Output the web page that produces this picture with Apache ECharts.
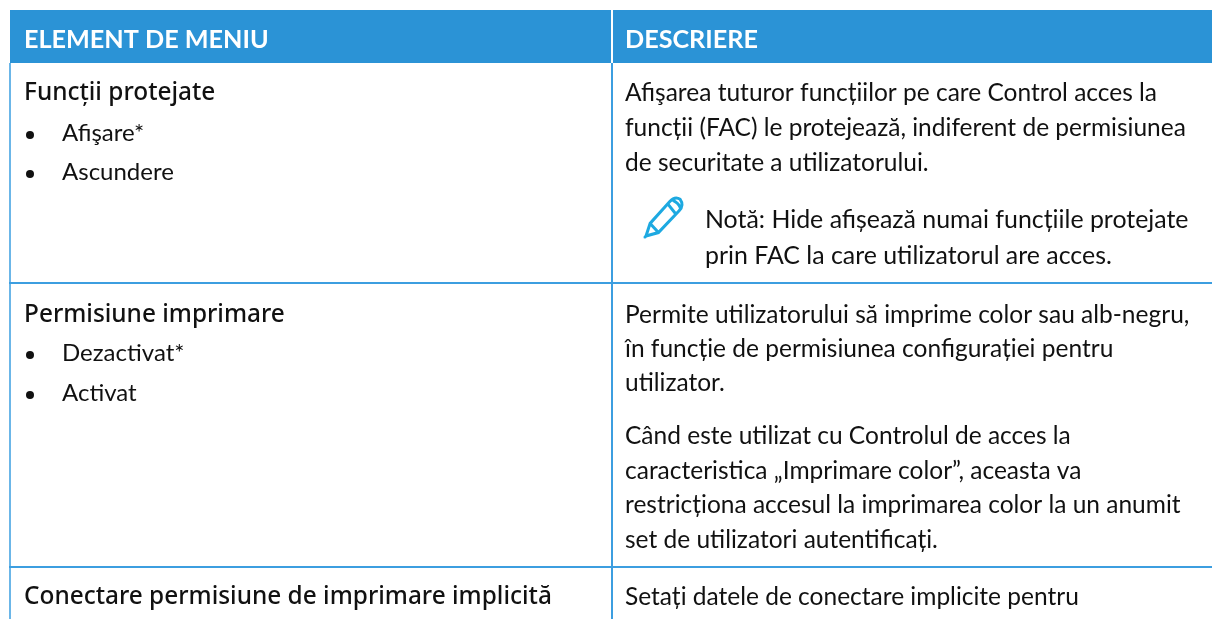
<!DOCTYPE html>
<html>
<head>
<meta charset="utf-8">
<style>
  html, body { margin: 0; padding: 0; background: #fff; }
  #table_box { width: 1212px; height: 619px; }
</style>
<script src="https://cdn.jsdelivr.net/npm/echarts@6/dist/echarts.min.js"></script>
</head>
<body>
<div id="table_box"></div>
<script>
var headers = ['ELEMENT DE MENIU', 'DESCRIERE'];
var rowTitles = ['Funcții protejate', 'Permisiune imprimare', 'Conectare permisiune de imprimare implicită'];
var rowOptions = [['Afişare*', 'Ascundere'], ['Dezactivat*', 'Activat'], []];
var rowTexts = [
  ['Afişarea tuturor funcțiilor pe care Control acces la', 'funcții (FAC) le protejează, indiferent de permisiunea', 'de securitate a utilizatorului.'],
  ['Permite utilizatorului să imprime color sau alb-negru,', 'în funcție de permisiunea configurației pentru', 'utilizator.', 'Când este utilizat cu Controlul de acces la', 'caracteristica „Imprimare color”, aceasta va', 'restricționa accesul la imprimarea color la un anumit', 'set de utilizatori autentificați.'],
  ['Setați datele de conectare implicite pentru']
];
var noteLines = ['Notă: Hide afișează numai funcțiile protejate', 'prin FAC la care utilizatorul are acces.'];

var BLUE = '#2b93d6', LINE = '#3c9ee0', FONT = 'Lato', SIZE = 24;
var rowTop = [93, 315, 597];
var optTop = [[133, 172], [353, 393], []];
var textY = [[93, 128, 163], [315, 349, 383, 436, 471, 505, 540], [597]];
var noteY = [220, 256];

function txt(x, y, s, o) {
  o = o || {};
  return { type: 'text', x: x, y: y, style: {
    text: s, fill: o.fill || '#111', font: (o.weight || 'normal') + ' ' + (o.size || SIZE) + 'px ' + (o.family || FONT),
    textVerticalAlign: 'middle', textAlign: 'left'
  }};
}
function rect(x, y, w, h, c) {
  return { type: 'rect', shape: { x: x, y: y, width: w, height: h }, style: { fill: c } };
}

var els = [];
els.push(rect(10, 10, 601, 53, BLUE), rect(613, 10, 599, 53, BLUE));
els.push(rect(9, 63, 2, 556, '#6bb6e8'), rect(611, 63, 2, 556, LINE));
els.push(rect(9, 282, 1203, 2, LINE), rect(9, 566, 1203, 2, LINE));
els.push(txt(24, 40, headers[0], { fill: '#fff', weight: 'bold', size: 25.2 }), txt(625, 40, headers[1], { fill: '#fff', weight: 'bold', size: 25.2 }));

rowTitles.forEach(function (t, i) {
  els.push(txt(24, rowTop[i], t, { weight: '500', family: 'Noto Sans', size: 24.4 }));
  rowOptions[i].forEach(function (op, j) {
    els.push({ type: 'circle', shape: { cx: 30, cy: optTop[i][j] + 2, r: 4 }, style: { fill: '#111' } });
    els.push(txt(62, optTop[i][j], op));
  });
  rowTexts[i].forEach(function (line, j) {
    els.push(txt(625, textY[i][j], line, { size: 24.5 }));
  });
});
noteLines.forEach(function (line, j) {
  els.push(txt(705, noteY[j], line, { size: 24.9 }));
});

var myChart = echarts.init(document.getElementById('table_box'));
myChart.setOption({
  animation: false,
  backgroundColor: '#fff',
  graphic: { elements: els },
  series: [{
    // creion
    type: 'custom',
    coordinateSystem: 'none',
    data: [0],
    renderItem: function () {
      return {
        type: 'group',
        children: [{
          type: 'path',
          shape: {
            pathData: 'M4 36 L8 25 L27 6 Q32 1 37 4 Q41 9 36 14 L16 33 Z M8 25 L16 33 M25 8 L33 17 M30 5 Q35 7 37 11',
            layout: 'cover', x: 646, y: 198, width: 36, height: 38
          },
          style: { fill: 'none', stroke: '#1da9e1', lineWidth: 3 }
        }, {
          type: 'circle',
          shape: { cx: 645, cy: 237, r: 1.5 },
          style: { fill: '#1da9e1' }
        }]
      };
    }
  }]
});
</script>
</body>
</html>
